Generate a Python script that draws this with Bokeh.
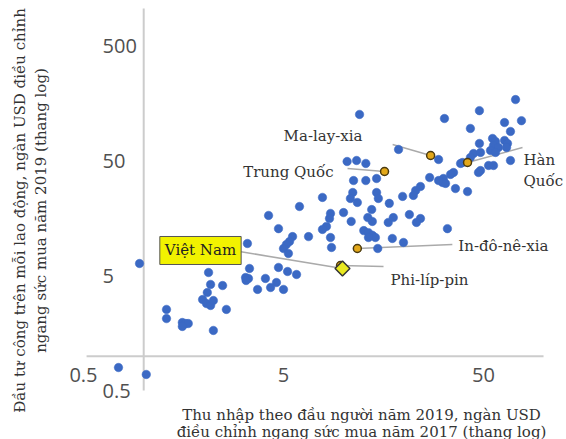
import math
from bokeh.plotting import figure
from bokeh.models import Range1d, Label, LabelSet, ColumnDataSource
from bokeh.core.properties import value
from bokeh.embed import file_html
from bokeh.resources import INLINE

# ---------------- data (thousand USD, PPP) ----------------
other_income = [0.748, 1.03, 0.953, 1.30, 1.30, 1.56, 1.62, 1.67, 1.56, 2.23,
                2.59, 1.97, 2.06, 2.16, 2.23, 2.08, 2.16, 2.48, 2.11, 3.30,
                3.38, 3.23, 3.34, 3.25, 3.71, 4.06, 4.61, 4.31, 5.00, 4.72,
                5.24, 5.81, 4.21, 4.72, 5.55, 5.36, 5.17, 5.00, 5.29, 6.67,
                6.01, 7.83, 8.59, 8.49, 9.98, 8.20, 7.83, 8.59, 8.69, 10.9,
                10.4, 11.6, 12.9, 11.2, 12.9, 14.6, 11.1, 10.8, 11.7, 14.6,
                14.9, 16.9, 13.8, 13.2, 13.9, 16.7, 12.6, 13.3, 13.9, 14.4,
                13.3, 14.8, 12.0, 18.8, 29.8, 31.9, 47.7, 72.3, 63.7, 77.4,
                43.0, 68.2, 47.7, 55.5, 57.4, 63.7, 65.9, 56.1, 59.4, 65.2,
                54.2, 57.4, 44.6, 48.3, 43.0, 39.3, 38.4, 68.2, 53.0, 56.1,
                48.3, 47.2, 35.4, 34.2, 31.5, 31.2, 32.3, 29.8, 26.9, 36.2,
                41.6, 24.2, 22.9, 22.3, 19.7, 17.7, 21.3, 24.2, 23.1, 33.0,
                17.5, 19.9]
other_invest = [0.800, 0.696, 6.42, 2.56, 2.13, 1.97, 1.93, 1.93, 1.82, 1.68,
                2.56, 3.12, 2.88, 2.77, 3.06, 3.59, 4.22, 4.13, 5.36, 9.58,
                5.81, 4.85, 4.76, 4.57, 3.82, 4.76, 4.39, 3.97, 3.82, 5.93,
                5.47, 5.15, 16.8, 12.9, 11.0, 9.98, 9.40, 8.67, 7.85, 11.0,
                20.1, 24.1, 17.5, 15.8, 17.8, 13.5, 12.7, 10.8, 8.85, 14.9,
                49.5, 50.5, 47.6, 33.8, 33.8, 35.2, 26.6, 23.6, 21.8, 26.6,
                23.6, 21.4, 18.9, 16.1, 14.9, 14.6, 12.4, 11.9, 11.3, 10.8,
                10.8, 8.67, 127, 63.0, 51.5, 117, 137, 171, 108, 112,
                95.9, 90.3, 71.0, 78.5, 73.9, 75.4, 71.0, 68.2, 65.5, 65.5,
                61.7, 59.3, 58.1, 59.3, 53.6, 48.5, 47.6, 50.5, 45.7, 45.7,
                41.3, 39.7, 39.7, 38.2, 35.2, 32.5, 31.9, 33.8, 35.9, 28.8,
                27.1, 30.0, 27.7, 25.1, 24.6, 16.1, 17.1, 15.8, 14.6, 12.9,
                10.6, 9.78]

hl_names = ["Ma-lay-xia", "Trung Quốc", "Hàn Quốc", "In-đô-nê-xia", "Phi-líp-pin"]
hl_income = [27.2, 16.0, 41.6, 11.7, 9.64]
hl_invest = [55.8, 40.5, 48.5, 8.67, 6.17]

vn_name = "Việt Nam"
vn_income = [9.86]
vn_invest = [5.81]

x_ticks = [0.5, 5, 50]
x_tick_labels = ["0.5", "5", "50"]
y_ticks = [0.5, 5, 50, 500]
y_tick_labels = ["0.5", "5", "50", "500"]
axis_cross = 1

x_title = ["Thu nhập theo đầu người năm 2019, ngàn USD",
           "điều chỉnh ngang sức mua năm 2017 (thang log)"]
y_title = ["Đầu tư công trên mỗi lao động, ngàn USD điều chỉnh",
           "ngang sức mua năm 2019 (thang log)"]

# ---------------- layout ----------------
W, H = 566, 439
# the plotting frame fills the canvas; the axis lines cover only part of it
X0, X1 = 0.1923, 130.0
Y0, Y1 = 0.1893, 1243
AX_X = (0.518, 99.8)     # extent of the horizontal axis line
AX_Y = (0.505, 1059)     # extent of the vertical axis line
PPD_X = W / math.log10(X1 / X0)
PPD_Y = H / math.log10(Y1 / Y0)

def shift(x, y, dx, dy):
    """move a data point by dx, dy screen pixels (dy downwards)"""
    return x * 10 ** (dx / PPD_X), y * 10 ** (-dy / PPD_Y)

SERIF_NAME = "DejaVu Serif"
SANS_NAME = "Open Sans"
SERIF = value(SERIF_NAME)
SANS = value(SANS_NAME)
BLUE = "#3b69c4"
GOLD = "#e3a81a"
TXT = "#333333"
TICK = "#505050"

p = figure(width=W, height=H, x_axis_type="log", y_axis_type="log",
           x_range=Range1d(X0, X1), y_range=Range1d(Y0, Y1),
           x_axis_location=None, y_axis_location=None,
           min_border=0, output_backend="svg", toolbar_location=None,
           outline_line_color=None, background_fill_color="white")
p.grid.visible = False

# crossing axis lines
p.segment(x0=[axis_cross, AX_X[0]], y0=[AX_Y[0], axis_cross],
          x1=[axis_cross, AX_X[1]], y1=[AX_Y[1], axis_cross],
          line_color="#cccccc", line_width=2)

# tick labels
xt = ColumnDataSource(dict(x=x_ticks, y=[axis_cross] * len(x_ticks), t=x_tick_labels))
p.add_layout(LabelSet(x="x", y="y", text="t", source=xt, y_offset=-19,
                      text_align="center", text_baseline="middle",
                      text_font=SANS, text_font_size="20px", text_color=TICK))
yt = ColumnDataSource(dict(x=[AX_X[0]] * len(y_ticks), y=y_ticks, t=y_tick_labels))
p.add_layout(LabelSet(x="x", y="y", text="t", source=yt, x_offset=16,
                      text_align="left", text_baseline="middle",
                      text_font=SANS, text_font_size="20px", text_color=TICK))

# leader lines
leaders = {
    0: ((-38, -11), (0, 0)),
    1: ((-37, -3), (0, 0)),
    2: ((0, 0), (55, -15)),
    3: ((0, 0), (95, -4)),
    4: ((0, 0), (43, 1)),
}
sx0, sy0, sx1, sy1 = [], [], [], []
for i, (a, b) in leaders.items():
    x_a, y_a = shift(hl_income[i], hl_invest[i], *a)
    x_b, y_b = shift(hl_income[i], hl_invest[i], *b)
    sx0.append(x_a); sy0.append(y_a); sx1.append(x_b); sy1.append(y_b)
x_a, y_a = shift(vn_income[0], vn_invest[0], -103, -17)
sx0.append(x_a); sy0.append(y_a); sx1.append(vn_income[0]); sy1.append(vn_invest[0])
p.segment(x0=sx0, y0=sy0, x1=sx1, y1=sy1, line_color="#aaaaaa", line_width=1.5)

# scatter
p.scatter(other_income, other_invest, size=8.5, fill_color=BLUE, line_color=BLUE, line_width=0.5)
p.scatter(hl_income, hl_invest, size=8, fill_color=GOLD, line_color="#4a3a10", line_width=1.5)
p.scatter(vn_income, vn_invest, marker="square", angle=math.pi / 4, size=10.5,
          fill_color="#e8e820", line_color="#333333", line_width=1.5)

# country labels
lab_pos = {
    0: ("left", -147, -20),
    1: ("right", -51, 0),
    3: ("left", 101, -2),
    4: ("left", 50, 15),
}
for i, (al, dx, dy) in lab_pos.items():
    p.text([hl_income[i]], [hl_invest[i]], text=[hl_names[i]], x_offset=dx, y_offset=dy,
           text_align=al, text_baseline="middle", text_font=SERIF,
           text_font_size="15px", text_color=TXT)
for k, part in enumerate(hl_names[2].split(" ")):
    p.text([hl_income[2]], [hl_invest[2]], text=[part], x_offset=56, y_offset=-3 + 21 * k,
           text_align="left", text_baseline="middle", text_font=SERIF,
           text_font_size="15px", text_color=TXT)

p.add_layout(Label(x=vn_income[0], y=vn_invest[0], text=vn_name, x_offset=-142, y_offset=18,
                   text_align="center", text_baseline="middle", text_font=SERIF_NAME,
                   text_font_size="15px", text_color="#222222",
                   background_fill_color="#f2f200", border_line_color="#555555",
                   border_line_width=1, padding=5))

# axis titles (screen units, measured from the bottom-left corner)
for k, line in enumerate(x_title):
    p.add_layout(Label(x=361, y=25 - 17 * k, x_units="screen", y_units="screen", text=line,
                       text_align="center", text_baseline="middle", text_font=SERIF_NAME,
                       text_font_size="15px", text_color=TXT))
for k, line in enumerate(y_title):
    p.add_layout(Label(x=19 + 21 * k, y=229, x_units="screen", y_units="screen", text=line,
                       angle=math.pi / 2, text_align="center", text_baseline="middle",
                       text_font=SERIF_NAME, text_font_size="15px", text_color=TXT))

open("out.html", "w").write(file_html(p, INLINE))
